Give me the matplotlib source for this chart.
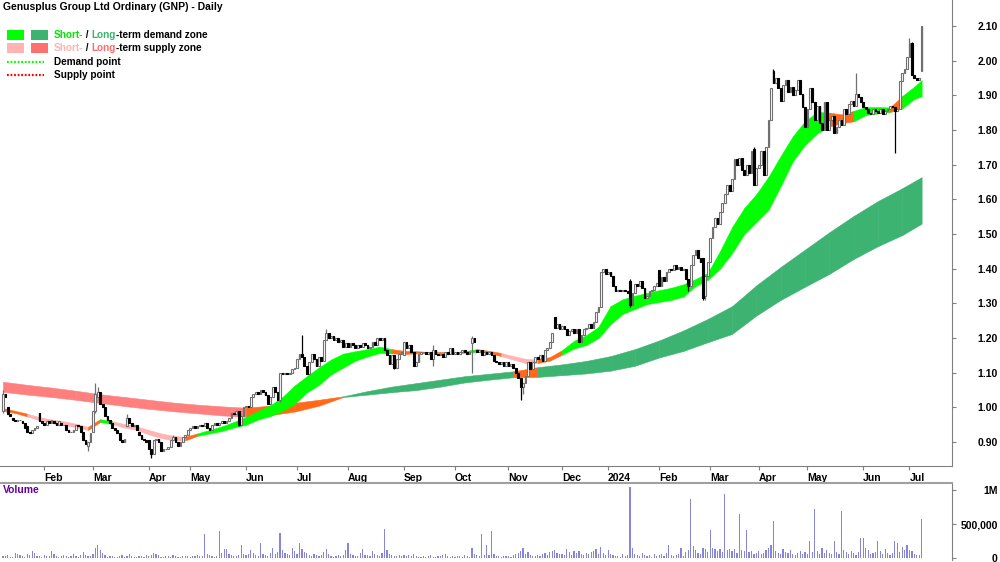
import numpy as np
import pandas as pd
import matplotlib
matplotlib.use('Agg')
import matplotlib.pyplot as plt
from matplotlib.lines import Line2D
from matplotlib.patches import Rectangle
from matplotlib.transforms import IdentityTransform

plt.rcParams['font.family'] = ['Liberation Sans', 'DejaVu Sans']

W, H = 1000, 562

# ASX sessions shown on the chart
first_day = '2023-01-06'
last_day = '2024-07-08'
asx_holidays = ['2023-01-26', '2023-04-07', '2023-04-10', '2023-04-25', '2023-06-12',
                '2023-12-25', '2023-12-26', '2024-01-01', '2024-01-26', '2024-03-29',
                '2024-04-01', '2024-04-25', '2024-06-10']

# daily opens / closes, one line per month
opens = [
    0.99, 1.04, 1.00, 0.98, 0.97, 0.965, 0.96, 0.965, 0.96, 0.955, 0.945, 0.93, 0.925, 0.935, 0.94, 0.985, 0.96,  # Jan 23
    0.955, 0.95, 0.96, 0.955, 0.96, 0.955, 0.95, 0.955, 0.95, 0.95, 0.935, 0.93, 0.93, 0.935, 0.95, 0.945, 0.93, 0.905, 0.89, 0.90,  # Feb
    0.93, 0.99, 1.03, 1.045, 1.01, 1.0, 0.975, 0.965, 0.955, 0.94, 0.935, 0.925, 0.905, 0.9, 0.945, 0.97, 0.955, 0.945, 0.95, 0.93, 0.92, 0.91, 0.905,  # Mar
    0.905, 0.88, 0.865, 0.905, 0.91, 0.9, 0.875, 0.88, 0.88, 0.885, 0.905, 0.915, 0.9, 0.89, 0.9, 0.915, 0.92,  # Apr
    0.935, 0.94, 0.945, 0.94, 0.945, 0.95, 0.945, 0.955, 0.94, 0.935, 0.95, 0.955, 0.95, 0.955, 0.96, 0.955, 0.96, 0.97, 0.985, 0.98, 0.99, 0.95, 0.975,  # May
    1.0, 1.005, 1.0, 1.03, 1.04, 1.045, 1.04, 1.05, 1.045, 1.035, 1.01, 1.03, 1.06, 1.045, 1.02, 1.10, 1.095, 1.10, 1.095, 1.10, 1.11,  # Jun
    1.115, 1.14, 1.155, 1.145, 1.12, 1.095, 1.13, 1.155, 1.14, 1.12, 1.145, 1.135, 1.195, 1.215, 1.2, 1.205, 1.195, 1.2, 1.19, 1.195, 1.175,  # Jul
    1.185, 1.175, 1.185, 1.18, 1.17, 1.18, 1.175, 1.185, 1.18, 1.17, 1.175, 1.19, 1.18, 1.2, 1.195, 1.2, 1.165, 1.15, 1.125, 1.15, 1.115, 1.14, 1.155,  # Aug
    1.15, 1.19, 1.17, 1.18, 1.16, 1.12, 1.13, 1.155, 1.16, 1.16, 1.155, 1.16, 1.14, 1.165, 1.155, 1.15, 1.155, 1.145, 1.16, 1.155, 1.17,  # Sep
    1.155, 1.16, 1.155, 1.16, 1.165, 1.16, 1.155, 1.185, 1.2, 1.165, 1.16, 1.165, 1.15, 1.16, 1.155, 1.16, 1.15, 1.135, 1.13, 1.125, 1.13, 1.12,  # Oct
    1.13, 1.12, 1.125, 1.115, 1.1, 1.085, 1.06, 1.07, 1.09, 1.13, 1.11, 1.13, 1.145, 1.14, 1.15, 1.135, 1.165, 1.17, 1.19, 1.26, 1.23, 1.24,  # Nov
    1.225, 1.235, 1.225, 1.21, 1.22, 1.225, 1.215, 1.225, 1.19, 1.21, 1.225, 1.23, 1.24, 1.23, 1.245, 1.275, 1.29, 1.39, 1.40,  # Dec
    1.385, 1.39, 1.38, 1.35, 1.335, 1.34, 1.335, 1.34, 1.335, 1.365, 1.295, 1.33, 1.355, 1.35, 1.365, 1.345, 1.315, 1.32, 1.335, 1.34, 1.35,  # Jan 24
    1.395, 1.35, 1.375, 1.365, 1.39, 1.40, 1.395, 1.41, 1.40, 1.405, 1.395, 1.40, 1.37, 1.35, 1.41, 1.44, 1.455, 1.43, 1.43, 1.32, 1.38,  # Feb
    1.42, 1.49, 1.52, 1.545, 1.53, 1.565, 1.59, 1.615, 1.64, 1.625, 1.66, 1.715, 1.70, 1.72, 1.685, 1.67, 1.70, 1.675, 1.745, 1.64,  # Mar
    1.69, 1.70, 1.74, 1.67, 1.75, 1.83, 1.97, 1.935, 1.95, 1.92, 1.885, 1.93, 1.945, 1.91, 1.925, 1.90, 1.915, 1.945, 1.905, 1.865,  # Apr
    1.81, 1.86, 1.92, 1.88, 1.83, 1.87, 1.82, 1.80, 1.88, 1.80, 1.83, 1.84, 1.79, 1.81, 1.83, 1.815, 1.86, 1.845, 1.875, 1.885, 1.87, 1.905, 1.895,  # May
    1.88, 1.865, 1.86, 1.85, 1.845, 1.86, 1.855, 1.85, 1.86, 1.845, 1.855, 1.86, 1.87, 1.865, 1.855, 1.86, 1.94, 1.965, 1.975,  # Jun
    2.01, 2.05, 1.96, 1.95, 1.945, 1.97,  # Jul
]
closes = [
    1.04, 1.03, 0.98, 0.975, 0.965, 0.96, 0.965, 0.965, 0.955, 0.94, 0.93, 0.925, 0.935, 0.94, 0.945, 0.96, 0.955,
    0.95, 0.96, 0.955, 0.965, 0.955, 0.95, 0.96, 0.95, 0.95, 0.935, 0.93, 0.93, 0.935, 0.95, 0.945, 0.93, 0.905, 0.895, 0.90, 0.925,
    0.99, 1.04, 1.045, 1.01, 1.0, 0.975, 0.965, 0.955, 0.94, 0.935, 0.925, 0.905, 0.9, 0.91, 0.97, 0.955, 0.945, 0.95, 0.935, 0.92, 0.91, 0.905, 0.9,
    0.88, 0.865, 0.905, 0.91, 0.9, 0.875, 0.88, 0.88, 0.885, 0.905, 0.915, 0.9, 0.89, 0.9, 0.915, 0.92, 0.935,
    0.94, 0.945, 0.94, 0.945, 0.95, 0.945, 0.955, 0.94, 0.935, 0.95, 0.955, 0.95, 0.955, 0.96, 0.955, 0.96, 0.97, 0.985, 0.98, 0.99, 0.95, 0.975, 1.0,
    1.005, 1.0, 1.03, 1.04, 1.045, 1.04, 1.05, 1.045, 1.035, 1.01, 1.03, 1.06, 1.045, 1.02, 1.10, 1.095, 1.10, 1.095, 1.10, 1.11, 1.115,
    1.14, 1.155, 1.145, 1.12, 1.095, 1.13, 1.155, 1.14, 1.12, 1.145, 1.135, 1.195, 1.215, 1.2, 1.205, 1.195, 1.2, 1.19, 1.195, 1.175, 1.185,
    1.175, 1.185, 1.18, 1.17, 1.18, 1.175, 1.185, 1.18, 1.17, 1.175, 1.19, 1.18, 1.2, 1.195, 1.2, 1.165, 1.15, 1.125, 1.15, 1.115, 1.14, 1.155, 1.16,
    1.19, 1.17, 1.18, 1.16, 1.12, 1.13, 1.155, 1.16, 1.16, 1.155, 1.16, 1.14, 1.165, 1.155, 1.15, 1.155, 1.145, 1.16, 1.155, 1.17, 1.155,
    1.16, 1.155, 1.16, 1.165, 1.16, 1.155, 1.16, 1.2, 1.19, 1.16, 1.165, 1.15, 1.16, 1.155, 1.16, 1.15, 1.135, 1.13, 1.125, 1.13, 1.12, 1.13,
    1.12, 1.125, 1.115, 1.1, 1.085, 1.06, 1.07, 1.09, 1.13, 1.11, 1.13, 1.145, 1.14, 1.15, 1.135, 1.165, 1.17, 1.19, 1.215, 1.23, 1.24, 1.225,
    1.235, 1.225, 1.21, 1.22, 1.225, 1.215, 1.225, 1.19, 1.21, 1.225, 1.23, 1.24, 1.23, 1.245, 1.275, 1.29, 1.39, 1.40, 1.385,
    1.39, 1.38, 1.35, 1.335, 1.34, 1.335, 1.34, 1.335, 1.33, 1.295, 1.33, 1.355, 1.35, 1.365, 1.345, 1.315, 1.32, 1.335, 1.34, 1.35, 1.36,
    1.35, 1.375, 1.365, 1.39, 1.40, 1.395, 1.41, 1.40, 1.405, 1.395, 1.40, 1.37, 1.35, 1.41, 1.44, 1.455, 1.43, 1.42, 1.315, 1.38, 1.42,
    1.49, 1.52, 1.545, 1.53, 1.565, 1.59, 1.615, 1.64, 1.625, 1.66, 1.715, 1.70, 1.72, 1.685, 1.67, 1.70, 1.675, 1.74, 1.64, 1.69,
    1.70, 1.74, 1.67, 1.75, 1.83, 1.92, 1.935, 1.95, 1.92, 1.885, 1.93, 1.945, 1.91, 1.925, 1.90, 1.915, 1.945, 1.905, 1.865, 1.81,
    1.86, 1.92, 1.88, 1.83, 1.87, 1.82, 1.80, 1.88, 1.80, 1.83, 1.84, 1.79, 1.81, 1.83, 1.815, 1.86, 1.845, 1.875, 1.885, 1.87, 1.905, 1.895, 1.88,
    1.865, 1.86, 1.85, 1.845, 1.86, 1.855, 1.85, 1.86, 1.845, 1.855, 1.86, 1.87, 1.865, 1.855, 1.86, 1.94, 1.965, 1.975, 2.01,
    2.05, 1.96, 1.95, 1.945, 1.95, 2.10,
]

# sessions with visible wicks: (high, low); other sessions have no wick
wicks = {
    '2023-01-06': (1.05, 0.985), '2023-02-27': (0.90, 0.875), '2023-03-02': (1.07, 0.985),
    '2023-03-03': (1.06, 1.03), '2023-03-21': (0.98, 0.945), '2023-04-04': (0.88, 0.855),
    '2023-04-19': (0.92, 0.905), '2023-05-29': (0.99, 0.945), '2023-06-22': (1.10, 1.015),
    '2023-07-05': (1.21, 1.145), '2023-07-19': (1.225, 1.195), '2023-08-28': (1.15, 1.11),
    '2023-09-19': (1.18, 1.12), '2023-10-11': (1.205, 1.10), '2023-11-08': (1.085, 1.02),
    '2023-11-09': (1.07, 1.04), '2024-01-15': (1.37, 1.29), '2024-02-19': (1.37, 1.335),
    '2024-02-27': (1.43, 1.31), '2024-02-28': (1.38, 1.31), '2024-03-27': (1.75, 1.64),
    '2024-04-10': (1.975, 1.935), '2024-05-29': (1.965, 1.87), '2024-06-21': (1.865, 1.735),
    '2024-07-01': (2.065, 2.01), '2024-07-02': (2.055, 1.96),
}

# daily volume, thousands of shares
volumes_k = [
    30, 25, 40, 15, 20, 80, 60, 45, 30, 20, 55, 40, 110, 70, 30, 25, 20,
    40, 30, 25, 110, 60, 35, 20, 30, 45, 25, 15, 30, 60, 25, 20, 40, 90, 50, 30, 35,
    60, 150, 200, 120, 80, 40, 20, 30, 25, 10, 15, 30, 40, 20, 25, 60, 35, 20, 15, 30, 25, 20, 40,
    30, 45, 80, 60, 40, 20, 15, 25, 30, 20, 40, 25, 15, 20, 35, 30, 25,
    20, 30, 25, 40, 35, 30, 360, 60, 45, 30, 20, 25, 400, 80, 140, 130, 60, 40, 30, 35, 50, 200, 60,
    40, 60, 120, 80, 50, 30, 220, 60, 40, 30, 70, 150, 60, 90, 370, 120, 80, 60, 40, 150, 100,
    60, 220, 130, 90, 70, 40, 30, 60, 50, 30, 40, 90, 130, 60, 30, 20, 25, 40, 30, 50, 120,
    220, 60, 40, 30, 25, 80, 130, 50, 40, 30, 100, 60, 40, 30, 80, 430, 120, 60, 40, 30, 25, 40, 30,
    50, 30, 40, 25, 60, 30, 20, 15, 25, 20, 30, 40, 20, 15, 25, 30, 40, 60, 30, 20, 25,
    20, 30, 25, 15, 40, 30, 20, 150, 60, 40, 30, 350, 50, 200, 40, 400, 60, 30, 25, 20, 30, 25,
    30, 20, 40, 60, 80, 110, 150, 60, 90, 40, 30, 25, 40, 30, 60, 80, 50, 90, 100, 120, 70, 60,
    60, 40, 130, 90, 50, 100, 70, 110, 60, 40, 80, 60, 90, 100, 130, 60, 160, 80, 50,
    120, 60, 40, 30, 25, 20, 60, 30, 40, 1050, 150, 60, 40, 30, 80, 50, 30, 40, 20, 60, 30,
    40, 60, 30, 80, 200, 50, 30, 40, 60, 150, 30, 90, 120, 880, 180, 120, 70, 60, 150, 140, 90,
    420, 150, 130, 100, 140, 90, 950, 120, 130, 100, 140, 80, 650, 120, 100, 420, 90, 110, 60, 80,
    100, 60, 80, 120, 150, 200, 550, 100, 80, 60, 130, 90, 70, 120, 60, 50, 80, 100, 60, 90,
    60, 250, 90, 720, 100, 60, 150, 80, 120, 70, 60, 250, 90, 60, 700, 120, 90, 60, 100, 80, 50, 90, 300,
    290, 150, 120, 60, 80, 90, 250, 100, 60, 140, 80, 50, 70, 250, 220, 90, 160, 120, 200,
    120, 100, 60, 50, 40, 580,
]

# short-term zone edges, read every 5 sessions (last point = final session)
short_upper = [0.998, 0.99, 0.982, 0.972, 0.965, 0.96, 0.953, 0.944, 0.966, 0.96, 0.952, 0.945, 0.935,
               0.925, 0.918, 0.915, 0.925, 0.935, 0.945, 0.958, 0.972, 0.99, 1.006, 1.03, 1.063, 1.09,
               1.115, 1.138, 1.155, 1.162, 1.168, 1.175, 1.168, 1.163, 1.162, 1.16, 1.16, 1.159, 1.162,
               1.168, 1.163, 1.157, 1.148, 1.14, 1.138, 1.145, 1.165, 1.192, 1.208, 1.232, 1.292, 1.312,
               1.322, 1.33, 1.338, 1.345, 1.355, 1.37, 1.388, 1.45, 1.52, 1.575, 1.615, 1.665, 1.725,
               1.782, 1.825, 1.852, 1.85, 1.845, 1.855, 1.866, 1.866, 1.865, 1.898, 1.925, 1.944]
short_lower = [0.99, 0.984, 0.974, 0.963, 0.955, 0.95, 0.943, 0.935, 0.958, 0.952, 0.942, 0.935, 0.922,
               0.912, 0.905, 0.905, 0.918, 0.925, 0.932, 0.942, 0.95, 0.965, 0.975, 0.99, 1.01, 1.043,
               1.065, 1.095, 1.115, 1.135, 1.147, 1.157, 1.156, 1.154, 1.156, 1.156, 1.157, 1.156, 1.158,
               1.16, 1.157, 1.148, 1.138, 1.128, 1.128, 1.135, 1.152, 1.17, 1.18, 1.2, 1.24, 1.27,
               1.284, 1.298, 1.304, 1.31, 1.32, 1.35, 1.368, 1.40, 1.445, 1.50, 1.535, 1.57, 1.638,
               1.71, 1.757, 1.79, 1.81, 1.82, 1.825, 1.843, 1.848, 1.852, 1.862, 1.89, 1.897]
# g = demand, p = supply, o = zone broken by price
short_state = 'oo' + 'ppppp' + 'og' + 'pppppp' + 'o' + 'g' * 16 + 'oooooo' + 'g' + 'oo' + 'ppp' + 'oo' + 'g' * 22 + 'oo' + 'ggg' + 'o' + 'gg'

# long-term zone edges, read every 10 sessions (last point = final session)
long_upper = [1.074, 1.065, 1.057, 1.048, 1.038, 1.030, 1.022, 1.014, 1.008, 1.003, 0.999, 1.005, 1.013,
              1.022, 1.032, 1.047, 1.060, 1.070, 1.080, 1.090, 1.097, 1.104, 1.116, 1.124, 1.134, 1.148,
              1.168, 1.193, 1.222, 1.255, 1.292, 1.352, 1.405, 1.455, 1.505, 1.552, 1.595, 1.632, 1.664]
long_lower = [1.045, 1.037, 1.030, 1.022, 1.013, 1.004, 0.996, 0.989, 0.983, 0.977, 0.973, 0.978, 0.988,
              1.005, 1.030, 1.037, 1.044, 1.050, 1.060, 1.072, 1.080, 1.087, 1.088, 1.093, 1.098, 1.106,
              1.120, 1.144, 1.163, 1.188, 1.212, 1.265, 1.310, 1.348, 1.385, 1.428, 1.465, 1.497, 1.530]
long_state = 'p' * 10 + 'oooo' + 'g' * 7 + 'o' + 'g' * 16

SHORT_COL = {'g': '#00ff00', 'p': '#ffb3b3', 'o': '#ff6a1a'}
LONG_COL = {'g': '#3cb371', 'p': '#ff7f7f', 'o': '#ff6a1a'}


def draw_zone(ax, xs, upper, lower, states, colours):
    for k, s in enumerate(states):
        c = colours[s]
        ax.fill_between(xs[k:k + 2], lower[k:k + 2], upper[k:k + 2], facecolor=c,
                        edgecolor=c, linewidth=0.4, zorder=1)


def rich_text(fig, x, y, pieces, **kw):
    # pieces of differently coloured text, laid out left to right (pixels from top-left)
    r = fig.canvas.get_renderer()
    xp = x
    for s, c in pieces:
        t = fig.text(xp, H - y, s, color=c, transform=IdentityTransform(), va='center', **kw)
        xp += t.get_window_extent(r).width


def main():
    dates = pd.bdate_range(first_day, last_day, freq='C', holidays=asx_holidays)
    o = np.array(opens)
    c = np.array(closes)
    assert len(dates) == len(o) == len(c) == len(volumes_k)
    hi = np.maximum(o, c)
    lo = np.minimum(o, c)
    for d, (h, l) in wicks.items():
        k = dates.get_loc(pd.Timestamp(d))
        hi[k], lo[k] = h, l
    x = np.arange(len(dates))

    fig = plt.figure(figsize=(W / 100, H / 100), dpi=100)
    ax = fig.add_axes([0, 1 - 466 / H, 952 / W, 466 / H])
    axv = fig.add_axes([0, 1 - 560 / H, 952 / W, 77 / H])
    fig.canvas.draw()

    # zones
    sx = np.r_[np.arange(0, 376, 5), len(x) - 1]
    lx = np.r_[np.arange(0, 371, 10), len(x) - 1]
    draw_zone(ax, lx, long_upper, long_lower, long_state, LONG_COL)
    draw_zone(ax, sx, short_upper, short_lower, short_state, SHORT_COL)

    # candles
    up = c >= o
    grey = '#707070'
    ax.vlines(x[up], lo[up], hi[up], color=grey, lw=0.9, zorder=2)
    ax.vlines(x[~up], lo[~up], hi[~up], color='black', lw=0.9, zorder=2)
    body_lo = np.minimum(o, c)
    body_h = np.abs(c - o)
    ax.bar(x[up], body_h[up], bottom=body_lo[up], width=0.72, facecolor='white',
           edgecolor=grey, linewidth=0.8, zorder=3)
    ax.bar(x[~up], body_h[~up], bottom=body_lo[~up], width=0.72, facecolor='black',
           edgecolor='black', linewidth=0.8, zorder=3)

    # volume
    axv.bar(x, np.array(volumes_k) * 1000, width=0.5, color='#8585da', linewidth=0)

    xlim = (-1.23, 390.5)
    for a in (ax, axv):
        a.set_xlim(*xlim)
        a.yaxis.tick_right()
        for s in ('left', 'top'):
            a.spines[s].set_visible(False)
        a.spines['right'].set_color('#808080')
        a.spines['bottom'].set_color('#808080')
        a.tick_params(axis='y', direction='out', length=3, width=0.8, color='#808080',
                      pad=30, labelsize=7.5)
    ax.set_ylim(0.831, 2.175)
    ax.set_yticks(np.arange(0.9, 2.11, 0.1))
    ax.set_yticklabels(['%.2f' % v for v in np.arange(0.9, 2.11, 0.1)], fontweight='bold',
                       fontsize=7.5, ha='right')

    # month ticks
    per = dates.to_period('M')
    starts = np.flatnonzero(per[1:] != per[:-1]) + 1
    labels = [str(dates[s].year) if dates[s].month == 1 else dates[s].strftime('%b') for s in starts]
    ax.set_xticks(starts)
    ax.set_xticklabels(labels, fontweight='bold', fontsize=7.5, ha='left')
    ax.tick_params(axis='x', direction='out', length=3, width=0.8, color='#808080', pad=2)

    axv.set_ylim(-29600, 1.111e6)
    axv.set_yticks([0, 500000, 1000000])
    axv.set_yticklabels(['0', '500,000', '1M'], fontweight='bold', fontsize=7.5, ha='right')
    axv.set_xticks([])
    axv.spines['bottom'].set_visible(False)
    axv.spines['top'].set_visible(True)
    axv.spines['top'].set_color('#a0a0a0')
    axv.spines['top'].set_linewidth(1.5)

    # titles and legend
    fig.text(3 / W, 1 - 7 / H, 'Genusplus Group Ltd Ordinary (GNP) - Daily', fontsize=7.5,
             fontweight='bold', va='center')
    fig.text(3 / W, 1 - 490 / H, 'Volume', fontsize=7.5, fontweight='bold', color='#660099',
             va='center')

    for (x0, y0, col) in [(7, 30, '#00ff00'), (31, 30, '#3cb371'), (7, 43, '#ffb3b3'), (31, 43, '#ff7070')]:
        fig.add_artist(Rectangle((x0 / W, 1 - (y0 + 10) / H), 17 / W, 10 / H,
                                 transform=fig.transFigure, color=col, lw=0))
    for (yy, col) in [(62, '#00ff00'), (75, '#ff0000')]:
        fig.add_artist(Line2D([7 / W, 44 / W], [1 - yy / H] * 2, transform=fig.transFigure,
                              color=col, lw=1.6, ls=(0, (0.8, 0.8))))
    kw = dict(fontsize=7.2, fontweight='bold')
    rich_text(fig, 54, 35, [('Short-', '#00e800'), (' / ', 'black'), ('Long', '#3cb371'),
                            ('-term demand zone', 'black')], **kw)
    rich_text(fig, 54, 48, [('Short-', '#ffb3b3'), (' / ', 'black'), ('Long', '#ff6b6b'),
                            ('-term supply zone', 'black')], **kw)
    rich_text(fig, 54, 62, [('Demand point', 'black')], **kw)
    rich_text(fig, 54, 75, [('Supply point', 'black')], **kw)

    fig.savefig('out.png', dpi=100)


if __name__ == '__main__':
    main()
